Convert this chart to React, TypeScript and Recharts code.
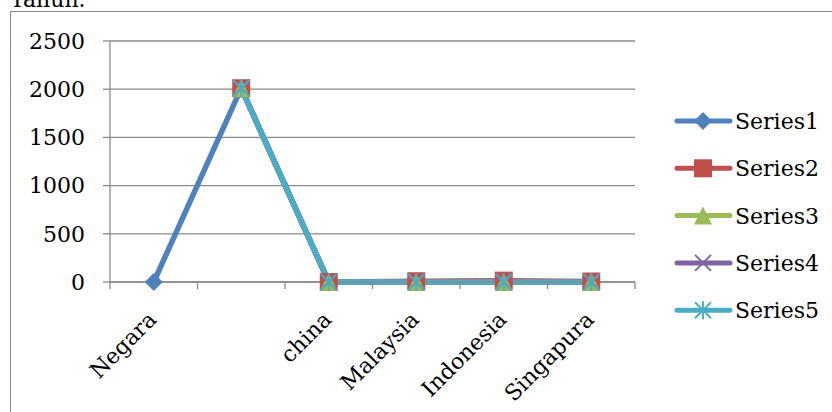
import React from 'react';
import {
  LineChart,
  Line,
  XAxis,
  YAxis,
  CartesianGrid,
} from 'recharts';

const categories = ['Negara', '', 'china', 'Malaysia', 'Indonesia', 'Singapura'];
const series1 = [0, 2010, 0, 0, 0, 0];
const series2 = [null, 2010, 0, 8, 14, 5];
const series3 = [null, 2010, 0, 0, 0, 0];
const series4 = [null, 2010, 0, 0, 0, 0];
const series5 = [null, 2010, 0, 0, 0, 0];
const yTicks = [0, 500, 1000, 1500, 2000, 2500];

const FONT = '"DejaVu Serif", serif';
const GRID = '#8a8a8a';

type Shape = 'diamond' | 'square' | 'triangle' | 'x' | 'star';

const seriesDefs: { key: string; name: string; color: string; shape: Shape; values: (number | null)[] }[] = [
  { key: 's1', name: 'Series1', color: '#4F81BD', shape: 'diamond', values: series1 },
  { key: 's2', name: 'Series2', color: '#C0504D', shape: 'square', values: series2 },
  { key: 's3', name: 'Series3', color: '#9BBB59', shape: 'triangle', values: series3 },
  { key: 's4', name: 'Series4', color: '#8064A2', shape: 'x', values: series4 },
  { key: 's5', name: 'Series5', color: '#4BACC6', shape: 'star', values: series5 },
];

const data = categories.map((name, i) => {
  const row: Record<string, string | number | null> = { name };
  seriesDefs.forEach((s) => {
    row[s.key] = s.values[i];
  });
  return row;
});

function Marker({ cx, cy, shape, color }: { cx: number; cy: number; shape: Shape; color: string }) {
  const r = 9;
  switch (shape) {
    case 'diamond':
      return <polygon points={`${cx},${cy - r} ${cx + r},${cy} ${cx},${cy + r} ${cx - r},${cy}`} fill={color} />;
    case 'square':
      return <rect x={cx - r} y={cy - r} width={r * 2} height={r * 2} fill={color} />;
    case 'triangle':
      return <polygon points={`${cx},${cy - r} ${cx + r},${cy + r} ${cx - r},${cy + r}`} fill={color} />;
    case 'x':
      return (
        <g stroke={color} strokeWidth={2}>
          <line x1={cx - 8} y1={cy - 8} x2={cx + 8} y2={cy + 8} />
          <line x1={cx - 8} y1={cy + 8} x2={cx + 8} y2={cy - 8} />
        </g>
      );
    default:
      return (
        <g stroke={color} strokeWidth={2}>
          <line x1={cx - 8} y1={cy - 8} x2={cx + 8} y2={cy + 8} />
          <line x1={cx - 8} y1={cy + 8} x2={cx + 8} y2={cy - 8} />
          <line x1={cx} y1={cy - 9} x2={cx} y2={cy + 9} />
        </g>
      );
  }
}

function makeDot(shape: Shape, color: string) {
  return (props: any) => {
    const { cx, cy, index, value } = props;
    if (cx == null || cy == null || value == null) return <g key={index} />;
    return (
      <g key={index}>
        <Marker cx={cx} cy={cy} shape={shape} color={color} />
      </g>
    );
  };
}

// label rotated like Excel, plus tick marks between the categories
function CategoryTick(props: any) {
  const { x, y, payload, index } = props;
  const band = (props.width || 525) / categories.length;
  const ax = x + 4;
  const ay = y + 39;
  const isLast = index === categories.length - 1;
  return (
    <g>
      <line x1={x - band / 2} y1={y} x2={x - band / 2} y2={y + 7} stroke={GRID} strokeWidth={1.3} />
      {isLast && <line x1={x + band / 2} y1={y} x2={x + band / 2} y2={y + 7} stroke={GRID} strokeWidth={1.3} />}
      <text
        x={ax}
        y={ay}
        transform={`rotate(-45, ${ax}, ${ay})`}
        textAnchor="end"
        fontFamily={FONT}
        fontSize={22}
        fill="#000"
      >
        {payload.value}
      </text>
    </g>
  );
}

function LegendBox() {
  return (
    <svg width={165} height={240} style={{ position: 'absolute', left: 670, top: 100 }}>
      {seriesDefs.map((s, i) => {
        const cy = 21 + i * 47.3;
        return (
          <g key={s.key}>
            <line x1={7} y1={cy} x2={60} y2={cy} stroke={s.color} strokeWidth={5} strokeLinecap="round" />
            <Marker cx={33} cy={cy} shape={s.shape} color={s.color} />
            <text x={65} y={cy + 8} fontFamily={FONT} fontSize={22} fill="#000">
              {s.name}
            </text>
          </g>
        );
      })}
    </svg>
  );
}

export default function App() {
  return (
    <div style={{ position: 'fixed', left: 0, top: 0, width: 832, height: 412, overflow: 'hidden', background: '#fff' }}>
      <div
        style={{
          position: 'absolute',
          left: 10,
          top: -11,
          fontFamily: FONT,
          fontSize: 22,
          lineHeight: '22px',
          color: '#000',
        }}
      >
        Tahun.
      </div>
      <div
        style={{
          position: 'absolute',
          left: 10,
          top: 11,
          width: 900,
          height: 500,
          border: `1.5px solid ${GRID}`,
        }}
      />
      <div style={{ position: 'absolute', left: 0, top: 0 }}>
        <LineChart
          width={832}
          height={412}
          data={data}
          margin={{ top: 41, right: 197, bottom: 0, left: 0 }}
        >
          <CartesianGrid horizontal vertical={false} stroke={GRID} strokeWidth={1.3} />
          <XAxis
            dataKey="name"
            scale="band"
            height={130}
            tickSize={0}
            tickMargin={0}
            axisLine={{ stroke: GRID, strokeWidth: 1.3 }}
            tickLine={false}
            interval={0}
            tick={<CategoryTick />}
          />
          <YAxis
            width={110}
            domain={[0, 2500]}
            ticks={yTicks}
            tickSize={7}
            tickMargin={18}
            tickLine={{ stroke: GRID, strokeWidth: 1.3 }}
            axisLine={{ stroke: GRID, strokeWidth: 1.3 }}
            tick={{ fontFamily: FONT, fontSize: 22, fill: '#000' }}
          />
          {seriesDefs.map((s) => (
            <Line
              key={s.key}
              dataKey={s.key}
              name={s.name}
              stroke={s.color}
              strokeWidth={5.5}
              dot={makeDot(s.shape, s.color)}
              activeDot={false}
              connectNulls={false}
              isAnimationActive={false}
            />
          ))}
        </LineChart>
      </div>
      <LegendBox />
    </div>
  );
}
